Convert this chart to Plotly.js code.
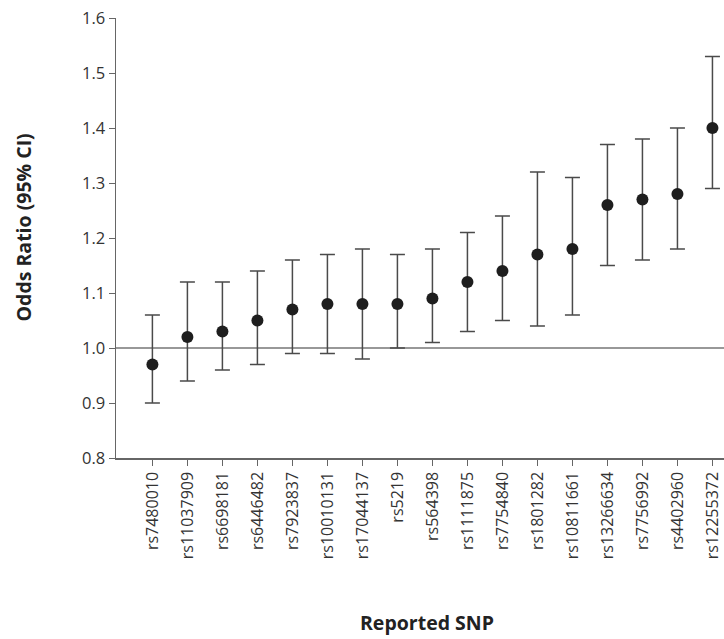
<!DOCTYPE html>
<html>
<head>
<meta charset="utf-8">
<script src="https://cdn.plot.ly/plotly-3.0.1.min.js"></script>
<style>html,body{margin:0;padding:0;background:#fff;}#chart{width:724px;height:639px;}</style>
</head>
<body>
<div id="chart"></div>
<script>
const snps = ["rs7480010","rs11037909","rs6698181","rs6446482","rs7923837","rs10010131","rs17044137","rs5219","rs564398","rs1111875","rs7754840","rs1801282","rs10811661","rs13266634","rs7756992","rs4402960","rs12255372"];
const oddsRatio = [0.97,1.02,1.03,1.05,1.07,1.08,1.08,1.08,1.09,1.12,1.14,1.17,1.18,1.26,1.27,1.28,1.40];
const ciLower = [0.90,0.94,0.96,0.97,0.99,0.99,0.98,1.00,1.01,1.03,1.05,1.04,1.06,1.15,1.16,1.18,1.29];
const ciUpper = [1.06,1.12,1.12,1.14,1.16,1.17,1.18,1.17,1.18,1.21,1.24,1.32,1.31,1.37,1.38,1.40,1.53];
const yTicks = [0.8,0.9,1.0,1.1,1.2,1.3,1.4,1.5,1.6];

const errPlus = ciUpper.map((u,i)=>+(u-oddsRatio[i]).toFixed(3));
const errMinus = ciLower.map((l,i)=>+(oddsRatio[i]-l).toFixed(3));

const trace = {
  type: 'scatter',
  mode: 'markers',
  x: snps,
  y: oddsRatio,
  marker: {color: '#1e1e1e', size: 12},
  error_y: {type: 'data', symmetric: false, array: errPlus, arrayminus: errMinus,
            color: '#4a4a4a', thickness: 1.5, width: 7.5},
  cliponaxis: false,
  hoverinfo: 'x+y'
};

const fontFam = '"Open Sans", "Noto Sans", sans-serif';
const layout = {
  width: 724, height: 639,
  margin: {l: 116, r: 0, t: 18, b: 181},
  paper_bgcolor: '#fff', plot_bgcolor: '#fff',
  showlegend: false,
  font: {family: fontFam, color: '#333', size: 16},
  xaxis: {
    type: 'category',
    range: [-1.04, 16.33],
    showline: true, linecolor: '#666', linewidth: 1.5,
    ticks: 'outside', ticklen: 6, tickcolor: '#666', tickwidth: 1,
    tickangle: -90,
    tickfont: {size: 16, color: '#333', family: fontFam},
    showgrid: false, zeroline: false
  },
  yaxis: {
    range: [0.8, 1.6],
    tickvals: yTicks,
    ticktext: yTicks.map(v=>v.toFixed(1)),
    showline: true, linecolor: '#666', linewidth: 1.5,
    ticks: 'outside', ticklen: 6, tickcolor: '#666', tickwidth: 1,
    tickfont: {size: 16.5, color: '#333', family: fontFam},
    showgrid: false, zeroline: false
  },
  shapes: [{
    type: 'line', xref: 'paper', x0: 0, x1: 1, yref: 'y', y0: 1.0, y1: 1.0,
    line: {color: '#333', width: 1.2}, layer: 'below'
  }],
  annotations: [
    {text: '<b>Odds Ratio (95% CI)</b>', xref: 'paper', yref: 'paper', x: -0.152, y: 0.523,
     xanchor: 'center', yanchor: 'middle', textangle: -90, showarrow: false,
     font: {size: 19.5, color: '#222', family: fontFam}},
    {text: '<b>Reported SNP</b>', xref: 'paper', yref: 'paper', x: 0.511, y: -0.373,
     xanchor: 'center', yanchor: 'middle', showarrow: false,
     font: {size: 19.5, color: '#222', family: fontFam}}
  ]
};

Plotly.newPlot('chart', [trace], layout, {displayModeBar: false, staticPlot: true});
</script>
</body>
</html>
